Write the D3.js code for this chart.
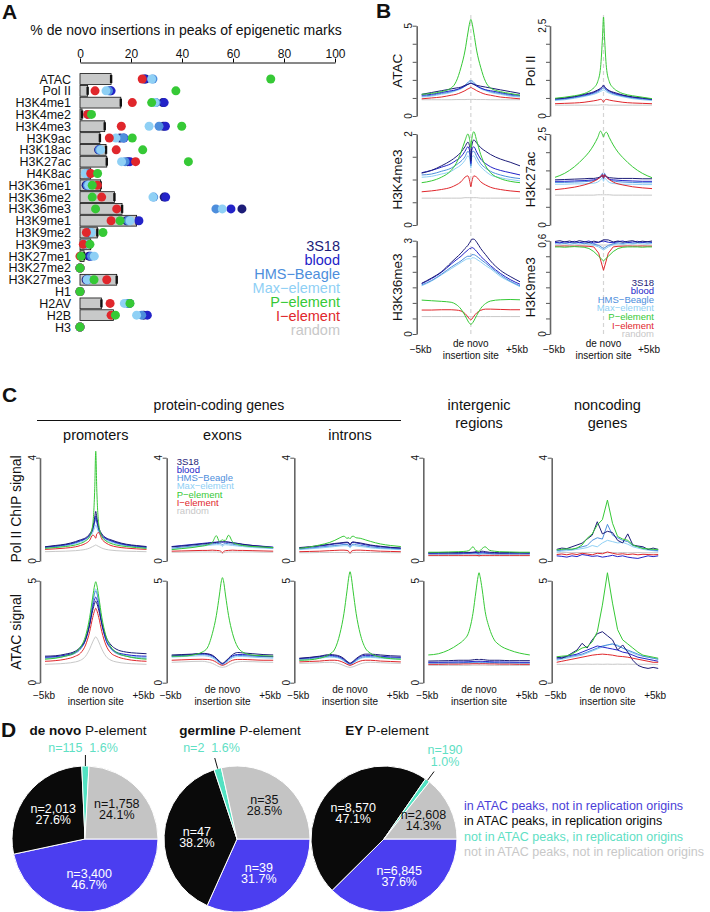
<!DOCTYPE html>
<html><head><meta charset="utf-8">
<script src="https://cdn.jsdelivr.net/npm/d3@7"></script>
<style>body{margin:0;background:#fff} text{font-family:"Liberation Sans",Arial,sans-serif}</style>
</head><body><div id="chart"></div>
<script>
// ---------- data ----------
const elements = ["3S18","blood","HMS\u2212Beagle","Max\u2212element","P\u2212element","I\u2212element","random"];
const colors = ["#1c1c78","#2323c8","#4d8edc","#8fd0f5","#36c936","#e0272c","#c8c8c8"];

// panel A: % insertions in peaks
const marks = ["ATAC","Pol II","H3K4me1","H3K4me2","H3K4me3","H3K9ac","H3K18ac","H3K27ac","H4K8ac","H3K36me1","H3K36me2","H3K36me3","H3K9me1","H3K9me2","H3K9me3","H3K27me1","H3K27me2","H3K27me3","H1","H2AV","H2B","H3"];
const randomPct = [12.2,3,16,0.8,9.7,7.8,10.2,10.5,4.2,8.1,13.5,16.5,22.2,6.8,4.2,1.6,0,14.4,0,8.4,13.1,0];
const pct3S18  = [25.7,11.8,32.5,3.2,32.7,15.7,7.3,18.7,2.6,2.4,33.0,63.5,18.3,3.8,1.9,3.5,0,2.4,0,19.2,25.0,0];
const pctBlood = [25.2,12.2,33.0,3.2,33.5,17.2,7.5,19.6,2.9,2.8,33.6,59.2,23.1,4.0,1.9,4.0,0,2.8,0,19.5,26.4,0];
const pctHMS   = [28.6,11.2,29.8,3.2,31.0,17.0,7.6,17.7,2.9,2.9,28.9,53.3,18.9,4.3,1.9,4.5,0,3.0,0,18.6,24.2,0];
const pctMax   = [28.1,10.2,29.4,3.2,27.1,14.1,8.1,16.3,2.1,3.4,28.6,55.8,19.6,4.4,1.9,5.6,0,2.8,0,17.4,22.2,0];
const pctP     = [74.8,37.6,28.1,4.5,39.9,20.5,24.6,42.5,6.9,4.8,4.8,6.1,15.7,9.0,3.9,0.4,0,5.5,0,19.6,13.9,0];
const pctI     = [24.4,5.9,20.5,3.0,16.2,11.5,14.2,21.8,4.2,6.8,8.5,14.4,12.2,2.5,1.3,0,0,10.5,0,11.8,12.2,0];
const aTicks = [0,20,40,60,80,100];

// profile x positions (kb from insertion site)
const kb = [-5,-4,-3,-2,-1.5,-1,-0.6,-0.3,-0.1,0,0.1,0.3,0.6,1,1.5,2,3,4,5];
const kbNoisy = [-5,-4.5,-4,-3.5,-3,-2.5,-2,-1.5,-1,-0.5,0,0.5,1,1.5,2,2.5,3,3.5,4,4.5,5];

// panel B profiles, series order = elements
const bATAC = [
  [1.2,1.3,1.4,1.5,1.55,1.6,1.7,1.75,1.8,1.8,1.8,1.75,1.7,1.65,1.6,1.55,1.45,1.35,1.25],
  [1.15,1.2,1.3,1.4,1.45,1.55,1.65,1.75,1.8,1.85,1.8,1.75,1.65,1.55,1.45,1.4,1.3,1.2,1.15],
  [1.1,1.15,1.25,1.35,1.45,1.55,1.7,1.85,1.95,1.95,1.95,1.85,1.7,1.55,1.45,1.35,1.25,1.15,1.1],
  [1.05,1.1,1.2,1.3,1.4,1.5,1.65,1.8,1.9,1.9,1.85,1.8,1.65,1.5,1.4,1.3,1.2,1.1,1.05],
  [1.2,1.25,1.35,1.55,1.9,2.7,3.6,4.6,5.2,5.35,5.2,4.6,3.6,2.7,1.9,1.55,1.35,1.25,1.15],
  [0.95,1.0,1.05,1.15,1.2,1.3,1.4,1.5,1.55,1.6,1.55,1.5,1.4,1.3,1.2,1.15,1.05,1.0,0.95],
  [0.9,0.9,0.9,0.9,0.91,0.91,0.91,0.92,0.92,0.92,0.92,0.92,0.91,0.91,0.91,0.9,0.9,0.9,0.9]
];
const bPolII = [
  [0.48,0.5,0.54,0.6,0.63,0.67,0.72,0.77,0.82,0.86,0.82,0.76,0.7,0.66,0.62,0.58,0.53,0.5,0.47],
  [0.47,0.49,0.53,0.58,0.61,0.65,0.7,0.75,0.8,0.83,0.8,0.74,0.69,0.64,0.6,0.57,0.52,0.49,0.46],
  [0.45,0.47,0.51,0.56,0.59,0.63,0.67,0.72,0.76,0.78,0.76,0.71,0.66,0.62,0.58,0.55,0.5,0.47,0.45],
  [0.43,0.45,0.49,0.54,0.57,0.6,0.64,0.68,0.71,0.72,0.71,0.67,0.63,0.59,0.56,0.53,0.48,0.45,0.43],
  [0.49,0.52,0.56,0.62,0.68,0.78,0.95,1.35,2.2,2.74,2.2,1.35,0.95,0.78,0.68,0.62,0.56,0.52,0.48],
  [0.34,0.35,0.36,0.38,0.4,0.42,0.44,0.46,0.43,0.38,0.43,0.46,0.44,0.42,0.4,0.38,0.36,0.35,0.34],
  [0.3,0.3,0.3,0.3,0.3,0.3,0.3,0.31,0.31,0.31,0.31,0.31,0.3,0.3,0.3,0.3,0.3,0.3,0.3]
];
const bH3K4me3 = [
  [1.14,1.2,1.3,1.42,1.5,1.6,1.72,1.82,1.7,1.4,1.75,1.87,1.8,1.7,1.62,1.55,1.45,1.38,1.3],
  [1.15,1.2,1.27,1.35,1.42,1.5,1.62,1.72,1.6,1.35,1.65,1.72,1.6,1.45,1.35,1.28,1.2,1.15,1.1],
  [1.1,1.12,1.18,1.25,1.32,1.4,1.5,1.62,1.55,1.3,1.6,1.62,1.5,1.35,1.25,1.18,1.1,1.05,1.02],
  [1.05,1.07,1.12,1.18,1.25,1.32,1.42,1.52,1.45,1.25,1.5,1.52,1.4,1.28,1.18,1.1,1.04,1.0,0.97],
  [0.93,0.97,1.05,1.2,1.35,1.6,1.85,2.0,1.85,1.7,1.9,2.05,1.85,1.55,1.3,1.15,1.02,0.96,0.93],
  [0.73,0.75,0.78,0.83,0.88,0.95,1.05,1.08,0.95,0.84,0.95,1.08,1.05,0.95,0.88,0.83,0.78,0.75,0.73],
  [0.59,0.59,0.59,0.59,0.59,0.59,0.6,0.6,0.6,0.6,0.6,0.6,0.6,0.59,0.59,0.59,0.59,0.59,0.59]
];
const bH3K27ac = [
  [1.24,1.25,1.26,1.27,1.28,1.28,1.3,1.32,1.35,1.3,1.36,1.33,1.3,1.29,1.28,1.28,1.28,1.27,1.27],
  [1.2,1.2,1.21,1.22,1.23,1.24,1.27,1.32,1.38,1.28,1.38,1.32,1.26,1.24,1.23,1.22,1.21,1.2,1.2],
  [1.17,1.17,1.18,1.19,1.2,1.22,1.26,1.35,1.42,1.3,1.42,1.34,1.25,1.21,1.19,1.18,1.17,1.16,1.16],
  [1.12,1.12,1.13,1.13,1.14,1.15,1.18,1.24,1.3,1.2,1.3,1.24,1.17,1.14,1.13,1.12,1.12,1.11,1.11],
  [1.31,1.42,1.6,1.85,2.0,2.2,2.4,2.58,2.48,2.42,2.5,2.55,2.4,2.2,2.0,1.85,1.6,1.42,1.3],
  [0.97,1.0,1.04,1.1,1.14,1.2,1.26,1.32,1.38,1.3,1.38,1.32,1.25,1.18,1.13,1.1,1.05,1.02,1.0],
  [0.82,0.82,0.82,0.82,0.82,0.82,0.83,0.83,0.83,0.83,0.83,0.83,0.83,0.82,0.82,0.82,0.82,0.82,0.82]
];
const bH3K36me3 = [
  [1.63,1.8,2.0,2.3,2.45,2.6,2.75,2.85,2.95,3.0,3.05,3.05,2.95,2.75,2.55,2.35,2.05,1.85,1.68],
  [1.62,1.78,1.98,2.25,2.38,2.5,2.62,2.7,2.75,2.75,2.78,2.75,2.65,2.5,2.35,2.2,1.95,1.75,1.6],
  [1.58,1.72,1.92,2.15,2.25,2.35,2.45,2.5,2.5,2.5,2.55,2.55,2.5,2.4,2.28,2.15,1.9,1.7,1.55],
  [1.55,1.7,1.9,2.1,2.2,2.3,2.38,2.42,2.42,2.4,2.45,2.45,2.4,2.32,2.2,2.1,1.85,1.68,1.52],
  [1.09,1.07,1.05,1.02,0.95,0.8,0.6,0.42,0.33,0.31,0.33,0.42,0.6,0.82,0.98,1.06,1.1,1.11,1.1],
  [0.77,0.77,0.78,0.78,0.77,0.74,0.66,0.55,0.47,0.45,0.48,0.57,0.68,0.76,0.8,0.8,0.79,0.78,0.78],
  [0.56,0.56,0.56,0.56,0.56,0.56,0.56,0.56,0.56,0.56,0.56,0.56,0.56,0.56,0.56,0.56,0.56,0.56,0.56]
];
const bH3K9me3 = [ // on kbNoisy
  [0.595,0.6,0.592,0.598,0.59,0.6,0.594,0.588,0.597,0.59,0.606,0.605,0.592,0.598,0.59,0.596,0.6,0.59,0.597,0.593,0.598],
  [0.59,0.585,0.594,0.588,0.596,0.587,0.592,0.598,0.585,0.59,0.598,0.59,0.587,0.594,0.598,0.588,0.592,0.596,0.588,0.594,0.59],
  [0.585,0.59,0.582,0.588,0.584,0.59,0.58,0.586,0.578,0.57,0.55,0.57,0.58,0.587,0.582,0.59,0.584,0.588,0.592,0.585,0.588],
  [0.58,0.578,0.584,0.576,0.582,0.578,0.585,0.575,0.57,0.56,0.54,0.56,0.575,0.58,0.576,0.582,0.578,0.584,0.58,0.578,0.582],
  [0.56,0.56,0.558,0.56,0.562,0.56,0.558,0.55,0.53,0.5,0.47,0.5,0.53,0.55,0.558,0.56,0.56,0.56,0.558,0.56,0.56],
  [0.565,0.565,0.566,0.565,0.565,0.566,0.565,0.564,0.56,0.52,0.41,0.52,0.56,0.564,0.565,0.566,0.565,0.565,0.566,0.565,0.565],
  [0.572,0.572,0.572,0.572,0.572,0.572,0.572,0.572,0.572,0.572,0.572,0.572,0.572,0.572,0.572,0.572,0.572,0.572,0.572,0.572,0.572]
];

// panel C profiles
const cPolPromoters = [
  [0.55,0.6,0.65,0.75,0.82,0.9,1.05,1.3,1.7,1.92,1.7,1.3,1.05,0.9,0.82,0.75,0.65,0.6,0.56],
  [0.54,0.58,0.63,0.72,0.79,0.87,1.0,1.22,1.55,1.75,1.55,1.22,1.0,0.87,0.79,0.72,0.63,0.58,0.54],
  [0.52,0.56,0.61,0.7,0.77,0.85,0.98,1.2,1.5,1.65,1.5,1.2,0.98,0.85,0.77,0.7,0.61,0.56,0.52],
  [0.5,0.54,0.59,0.67,0.73,0.8,0.92,1.1,1.3,1.4,1.3,1.1,0.92,0.8,0.73,0.67,0.59,0.54,0.5],
  [0.49,0.52,0.56,0.62,0.68,0.78,0.95,1.4,2.8,4.25,2.8,1.4,0.95,0.78,0.68,0.62,0.56,0.52,0.49],
  [0.45,0.47,0.5,0.55,0.6,0.68,0.8,1.0,0.95,0.88,1.05,1.1,0.85,0.7,0.6,0.55,0.5,0.47,0.45],
  [0.36,0.37,0.38,0.4,0.42,0.45,0.5,0.56,0.6,0.62,0.6,0.56,0.5,0.45,0.42,0.4,0.38,0.37,0.36]
];
const cPolExons = [
  [0.55,0.58,0.62,0.66,0.68,0.7,0.72,0.74,0.75,0.75,0.75,0.74,0.73,0.7,0.68,0.65,0.6,0.56,0.52],
  [0.56,0.6,0.64,0.68,0.7,0.72,0.73,0.74,0.73,0.72,0.73,0.74,0.73,0.71,0.68,0.64,0.6,0.57,0.54],
  [0.5,0.54,0.58,0.62,0.64,0.66,0.68,0.68,0.66,0.62,0.66,0.68,0.67,0.65,0.62,0.6,0.56,0.53,0.5],
  [0.46,0.5,0.54,0.58,0.6,0.62,0.63,0.63,0.6,0.56,0.6,0.63,0.62,0.6,0.58,0.56,0.52,0.5,0.48],
  [0.44,0.48,0.52,0.58,0.62,0.72,0.98,0.76,0.8,0.82,0.8,0.8,1.0,0.74,0.64,0.6,0.56,0.54,0.52],
  [0.38,0.39,0.4,0.41,0.41,0.42,0.41,0.4,0.36,0.32,0.36,0.4,0.41,0.42,0.41,0.41,0.4,0.39,0.38],
  [0.34,0.34,0.35,0.35,0.35,0.35,0.35,0.34,0.32,0.3,0.32,0.34,0.35,0.35,0.35,0.35,0.35,0.34,0.34]
];
const cPolIntrons = [
  [0.52,0.55,0.6,0.65,0.68,0.7,0.72,0.73,0.7,0.62,0.7,0.74,0.72,0.7,0.66,0.62,0.57,0.53,0.5],
  [0.5,0.54,0.58,0.63,0.66,0.68,0.7,0.71,0.68,0.6,0.68,0.72,0.7,0.67,0.63,0.6,0.55,0.52,0.5],
  [0.47,0.5,0.54,0.58,0.6,0.62,0.64,0.64,0.6,0.54,0.6,0.65,0.63,0.61,0.58,0.55,0.51,0.49,0.47],
  [0.44,0.47,0.5,0.54,0.56,0.58,0.59,0.59,0.56,0.5,0.56,0.6,0.58,0.56,0.54,0.51,0.48,0.46,0.44],
  [0.49,0.54,0.62,0.72,0.8,0.9,0.96,0.88,0.9,0.86,0.92,0.96,0.9,0.88,0.82,0.76,0.66,0.6,0.56],
  [0.36,0.37,0.38,0.4,0.41,0.42,0.42,0.41,0.36,0.3,0.36,0.41,0.42,0.42,0.41,0.4,0.38,0.37,0.36],
  [0.32,0.32,0.33,0.33,0.33,0.33,0.33,0.33,0.31,0.29,0.31,0.33,0.33,0.33,0.33,0.33,0.33,0.32,0.32]
];
const cPolIntergenic = [
  [0.32,0.33,0.32,0.33,0.34,0.33,0.34,0.36,0.34,0.32,0.36,0.38,0.36,0.34,0.33,0.32,0.33,0.32,0.32],
  [0.3,0.3,0.31,0.3,0.31,0.31,0.32,0.33,0.31,0.3,0.33,0.34,0.32,0.31,0.31,0.3,0.3,0.31,0.3],
  [0.28,0.28,0.28,0.28,0.29,0.29,0.3,0.3,0.28,0.26,0.28,0.3,0.3,0.29,0.28,0.28,0.28,0.28,0.28],
  [0.26,0.26,0.26,0.26,0.27,0.27,0.27,0.27,0.25,0.23,0.25,0.27,0.27,0.27,0.26,0.26,0.26,0.26,0.26],
  [0.34,0.34,0.35,0.36,0.37,0.4,0.55,0.4,0.38,0.37,0.4,0.48,0.55,0.42,0.38,0.36,0.35,0.34,0.34],
  [0.22,0.22,0.22,0.22,0.22,0.22,0.22,0.22,0.21,0.2,0.21,0.22,0.22,0.22,0.22,0.22,0.22,0.22,0.22],
  [0.2,0.2,0.2,0.2,0.2,0.2,0.2,0.2,0.2,0.19,0.2,0.2,0.2,0.2,0.2,0.2,0.2,0.2,0.2]
];
const cPolNoncoding = [ // on kbNoisy
  [0.45,0.5,0.48,0.55,0.62,0.69,0.85,1.0,1.52,1.05,1.15,1.1,0.8,0.7,1.05,0.62,0.58,0.55,0.45,0.5,0.45],
  [0.2,0.18,0.15,0.2,0.17,0.25,0.22,0.18,0.2,0.15,0.18,0.22,0.17,0.2,0.15,0.12,0.1,0.15,0.2,0.17,0.2],
  [0.4,0.42,0.45,0.44,0.5,0.55,0.6,0.8,0.9,0.85,1.42,1.0,0.9,0.8,0.75,0.6,0.55,0.5,0.45,0.42,0.4],
  [0.35,0.38,0.4,0.42,0.45,0.48,0.52,0.6,0.55,0.7,0.8,0.75,0.7,0.72,0.65,0.55,0.5,0.45,0.42,0.4,0.38],
  [0.43,0.45,0.47,0.46,0.5,0.62,0.88,1.05,1.4,1.6,2.36,1.46,0.95,0.85,0.8,0.62,0.55,0.48,0.47,0.45,0.45],
  [0.25,0.27,0.24,0.28,0.25,0.3,0.27,0.24,0.3,0.28,0.35,0.3,0.26,0.28,0.25,0.27,0.24,0.26,0.25,0.24,0.25],
  [0.32,0.32,0.33,0.32,0.33,0.32,0.33,0.33,0.32,0.33,0.32,0.33,0.32,0.33,0.32,0.32,0.33,0.32,0.32,0.32,0.32]
];
const cAtacPromoters = [
  [1.3,1.32,1.4,1.55,1.75,2.15,2.85,3.55,3.9,4.0,3.9,3.55,2.9,2.25,1.85,1.65,1.5,1.45,1.42],
  [1.25,1.28,1.35,1.5,1.7,2.1,2.85,3.7,4.1,4.2,4.1,3.7,2.85,2.1,1.7,1.5,1.38,1.32,1.3],
  [1.2,1.22,1.3,1.45,1.65,2.1,2.95,3.9,4.4,4.5,4.4,3.9,2.95,2.1,1.65,1.45,1.3,1.22,1.2],
  [1.25,1.27,1.35,1.5,1.7,2.15,3.0,4.0,4.5,4.6,4.5,4.0,3.0,2.15,1.7,1.5,1.35,1.28,1.25],
  [1.15,1.2,1.3,1.5,1.75,2.3,3.2,4.2,4.8,4.95,4.8,4.2,3.2,2.3,1.75,1.5,1.3,1.2,1.15],
  [1.05,1.08,1.15,1.3,1.45,1.85,2.5,3.2,3.55,3.65,3.55,3.2,2.5,1.85,1.45,1.3,1.15,1.08,1.05],
  [0.9,0.92,0.95,1.02,1.1,1.3,1.65,2.0,2.2,2.25,2.2,2.0,1.65,1.3,1.1,1.02,0.95,0.92,0.9]
];
const cAtacExons = [
  [1.36,1.38,1.4,1.44,1.42,1.35,1.2,1.05,0.97,0.95,0.97,1.05,1.2,1.38,1.48,1.46,1.42,1.38,1.36],
  [1.32,1.35,1.38,1.42,1.4,1.32,1.18,1.03,0.95,0.93,0.95,1.03,1.18,1.32,1.38,1.38,1.34,1.3,1.28],
  [1.3,1.33,1.36,1.38,1.36,1.28,1.14,1.0,0.92,0.9,0.92,1.0,1.14,1.28,1.34,1.33,1.3,1.28,1.26],
  [1.25,1.28,1.3,1.32,1.3,1.22,1.08,0.95,0.88,0.86,0.88,0.95,1.08,1.22,1.28,1.28,1.25,1.22,1.2],
  [1.3,1.3,1.35,1.5,1.7,2.4,3.3,4.3,5.0,5.15,5.0,4.3,3.3,2.4,1.75,1.5,1.35,1.32,1.3],
  [1.1,1.12,1.14,1.15,1.14,1.1,1.0,0.9,0.86,0.85,0.86,0.9,1.0,1.1,1.14,1.14,1.12,1.1,1.1],
  [1.0,1.02,1.04,1.05,1.02,0.95,0.85,0.78,0.76,0.75,0.76,0.78,0.85,0.95,1.02,1.04,1.03,1.01,1.0]
];
const cAtacIntrons = [
  [1.2,1.24,1.3,1.38,1.36,1.3,1.18,1.05,0.98,0.96,0.98,1.05,1.18,1.32,1.4,1.4,1.36,1.32,1.3],
  [1.18,1.22,1.28,1.34,1.32,1.26,1.14,1.02,0.95,0.93,0.95,1.02,1.14,1.28,1.34,1.34,1.3,1.26,1.24],
  [1.15,1.18,1.24,1.3,1.28,1.22,1.1,0.98,0.92,0.9,0.92,0.98,1.1,1.22,1.28,1.28,1.25,1.22,1.2],
  [1.1,1.14,1.2,1.25,1.24,1.18,1.06,0.95,0.88,0.86,0.88,0.95,1.06,1.18,1.24,1.24,1.2,1.17,1.15],
  [1.1,1.12,1.2,1.4,1.65,2.4,3.4,4.5,5.25,5.44,5.25,4.5,3.4,2.4,1.7,1.45,1.25,1.18,1.15],
  [1.02,1.04,1.06,1.1,1.1,1.06,0.98,0.9,0.86,0.85,0.86,0.9,0.98,1.06,1.1,1.1,1.06,1.04,1.02],
  [0.95,0.96,0.98,1.0,0.98,0.92,0.84,0.78,0.76,0.75,0.76,0.78,0.84,0.92,0.98,1.0,0.98,0.96,0.95]
];
const cAtacIntergenic = [
  [1.06,1.07,1.08,1.1,1.1,1.1,1.12,1.14,1.14,1.12,1.14,1.14,1.12,1.1,1.1,1.1,1.08,1.08,1.08],
  [1.0,1.0,1.01,1.02,1.02,1.03,1.04,1.05,1.05,1.04,1.05,1.05,1.04,1.03,1.02,1.02,1.01,1.0,1.0],
  [0.97,0.97,0.98,0.98,0.99,0.99,1.0,1.0,1.0,0.98,1.0,1.0,1.0,0.99,0.99,0.98,0.98,0.97,0.97],
  [0.93,0.93,0.94,0.94,0.95,0.95,0.96,0.96,0.95,0.94,0.95,0.96,0.96,0.95,0.95,0.94,0.94,0.93,0.93],
  [1.36,1.42,1.6,1.9,2.1,2.5,3.4,4.5,5.2,5.39,5.2,4.6,3.5,2.7,2.1,1.85,1.6,1.45,1.36],
  [0.9,0.9,0.91,0.91,0.92,0.92,0.93,0.93,0.93,0.92,0.93,0.93,0.93,0.92,0.92,0.91,0.91,0.9,0.9],
  [0.85,0.85,0.85,0.85,0.85,0.85,0.86,0.86,0.86,0.86,0.86,0.86,0.86,0.85,0.85,0.85,0.85,0.85,0.85]
];
const cAtacNoncoding = [ // on kbNoisy
  [1.25,1.2,1.3,1.45,1.6,1.93,1.7,2.1,2.4,2.5,2.3,2.1,1.6,1.85,1.5,1.1,0.85,0.75,0.7,0.75,0.7],
  [1.2,1.25,1.3,1.35,1.4,1.5,1.6,1.7,1.8,1.75,1.7,1.65,1.6,1.5,1.45,1.35,1.25,1.2,1.15,1.1,1.05],
  [1.15,1.2,1.25,1.3,1.35,1.4,1.5,1.6,1.7,1.8,1.85,1.9,1.8,1.7,1.6,1.5,1.4,1.3,1.25,1.2,1.15],
  [1.1,1.15,1.2,1.25,1.3,1.35,1.45,1.55,1.65,1.75,1.85,1.9,1.85,1.7,1.55,1.45,1.35,1.3,1.25,1.2,1.15],
  [1.27,1.3,1.32,1.4,1.55,1.7,1.76,2.0,2.5,3.8,5.39,3.9,2.6,2.1,1.9,1.7,1.5,1.35,1.3,1.25,1.2],
  [1.0,1.05,1.1,1.15,1.2,1.25,1.3,1.35,1.38,1.4,1.38,1.35,1.3,1.28,1.25,1.2,1.15,1.1,1.05,1.0,1.0],
  [0.9,0.9,0.91,0.9,0.91,0.9,0.91,0.9,0.91,0.9,0.91,0.9,0.91,0.9,0.91,0.9,0.91,0.9,0.91,0.9,0.9]
];

// panel D: pies
const pieTitles = ["de novo","germline","EY"];
const pieCategories = ["in ATAC peaks, not in replication origins","in ATAC peaks, in replication origins","not in ATAC peaks, in replication origins","not in ATAC peaks, not in replication origins"];
const countsDeNovo = [3400,2013,115,1758];
const countsGermline = [39,47,2,35];
const countsEY = [6845,8570,190,2608];
const pieColors = ["#4b3ef0","#0a0a0a","#52e2c2","#c4c4c4"];
const pieTextColors = ["#4b3ed8","#0a0a0a","#5fe0c4","#c8c8c8"];

// ---------- drawing ----------
const W = 710, H = 912;
const svg = d3.select("#chart").append("svg").attr("width", W).attr("height", H);
svg.append("rect").attr("width", W).attr("height", H).attr("fill", "#fff");

function txt(x, y, s, size, opt = {}) {
  return svg.append("text").attr("x", x).attr("y", y).attr("font-size", size)
    .attr("text-anchor", opt.anchor || "start").attr("fill", opt.fill || "#111")
    .attr("font-weight", opt.bold ? "bold" : null).text(s);
}
function vtxt(x, y, s, size) {
  return svg.append("text").attr("transform", `translate(${x},${y}) rotate(-90)`)
    .attr("text-anchor", "middle").attr("font-size", size).attr("fill", "#111").text(s);
}

// ----- Panel A -----
txt(2, 19, "A", 21, {bold: true});
txt(186, 35, "% de novo insertions in peaks of epigenetic marks", 14, {anchor: "middle"});
const xA = d3.scaleLinear().domain([0, 100]).range([80, 335]);
const yA = d3.scalePoint().domain(marks).range([79, 327]);
const axA = svg.append("g").attr("transform", "translate(0,62.5)")
  .call(d3.axisTop(xA).tickValues(aTicks).tickSize(4).tickSizeOuter(0));
axA.selectAll("text").attr("y", -5).attr("dy", 0).attr("font-size", 12)
  .attr("font-family", '"Liberation Sans",Arial,sans-serif').attr("fill", "#111");
axA.select(".domain").attr("stroke", "#111");

svg.selectAll(".mlab").data(marks).enter().append("text")
  .attr("x", 71).attr("y", d => yA(d) + 4.5).attr("text-anchor", "end")
  .attr("font-size", 12.5).attr("fill", "#111").text(d => d);

svg.selectAll(".bar").data(randomPct).enter().append("rect")
  .attr("x", xA(0)).attr("y", (d, i) => yA(marks[i]) - 5.4)
  .attr("width", d => xA(d) - xA(0)).attr("height", 10.8)
  .attr("fill", d => d > 0 ? "#c8c9c9" : "none").attr("stroke", d => d > 0 ? "#111" : "none").attr("stroke-width", 0.8);
svg.selectAll(".err").data(randomPct).enter().append("rect")
  .attr("x", d => xA(d) - 1.2).attr("y", (d, i) => yA(marks[i]) - 4)
  .attr("width", 2.4).attr("height", 8).attr("fill", d => d > 0 ? "#111" : "none");

const dotSeries = [[pct3S18, 0], [pctBlood, 1], [pctHMS, 2], [pctMax, 3], [pctI, 5], [pctP, 4]];
dotSeries.forEach(([vals, k]) => {
  svg.append("g").selectAll("circle").data(vals).enter().append("circle")
    .attr("cx", d => xA(d)).attr("cy", (d, i) => yA(marks[i])).attr("r", 4.5)
    .attr("fill", colors[k]);
});
elements.forEach((e, i) => txt(340, 251 + i * 14, e, 14.5, {anchor: "end", fill: colors[i]}));

// ----- profile panels -----
const drawOrder = [6, 3, 2, 1, 0, 5, 4];
function profile(c) {
  const x = d3.scaleLinear().domain([-5, 5]).range([c.x0, c.x1]);
  const y = d3.scaleLinear().domain([0, c.max]).range([c.yb, c.yt]);
  const g = svg.append("g");
  const ax = g.append("g").attr("transform", `translate(${c.ax},0)`)
    .call(d3.axisLeft(y).tickValues(c.ticks).tickSize(4).tickSizeOuter(0).tickFormat(""));
  ax.select(".domain").attr("stroke", "#666").attr("stroke-width", 1.6);
  ax.selectAll(".tick line").attr("stroke", "#555").attr("stroke-width", 1);
  [0, c.max].forEach(v => vtxt(c.ax - 4.5, y(v), String(v), 10));
  const xs = c.noisy ? kbNoisy : kb;
  const line = d3.line().x((d, i) => x(xs[i])).y(d => y(d))
    .curve(c.noisy ? d3.curveLinear : d3.curveMonotoneX);
  drawOrder.forEach(k => g.append("path").attr("d", line(c.data[k]))
    .attr("fill", "none").attr("stroke", colors[k]).attr("stroke-width", 1));
  if (c.xlab) {
    txt(x(-5) - 1, c.xlab + 4, "\u22125kb", 10, {anchor: "middle"});
    txt(x(5) - 3, c.xlab + 4, "+5kb", 10, {anchor: "middle"});
    txt(x(0), c.xlab - 2, "de novo", 10, {anchor: "middle"});
    txt(x(0), c.xlab + 10, "insertion site", 10, {anchor: "middle"});
  }
  return x;
}

// ----- Panel B -----
txt(376, 18, "B", 21, {bold: true});
const bCols = [{ax: 416.7, x0: 421.7, x1: 520}, {ax: 550, x0: 555, x1: 652}];
const bRows = [[25.7, 116], [134, 225], [240.7, 334]];
[470.85, 603.5].forEach(cx => svg.append("line").attr("x1", cx).attr("x2", cx).attr("y1", 15).attr("y2", 336)
  .attr("stroke", "#d4d4d4").attr("stroke-width", 1.2).attr("stroke-dasharray", "4,3"));
const bPanels = [
  {col: 0, row: 0, data: bATAC, max: 5, ticks: [0,1,2,3,4,5], label: "ATAC"},
  {col: 1, row: 0, data: bPolII, max: 2.5, ticks: [0,0.5,1,1.5,2,2.5], label: "Pol II"},
  {col: 0, row: 1, data: bH3K4me3, max: 2, ticks: [0,0.5,1,1.5,2], label: "H3K4me3"},
  {col: 1, row: 1, data: bH3K27ac, max: 2.5, ticks: [0,0.5,1,1.5,2,2.5], label: "H3K27ac"},
  {col: 0, row: 2, data: bH3K36me3, max: 3, ticks: [0,0.5,1,1.5,2,2.5,3], label: "H3K36me3"},
  {col: 1, row: 2, data: bH3K9me3, max: 0.6, ticks: [0,0.1,0.2,0.3,0.4,0.5,0.6], label: "H3K9me3", noisy: true}
];
bPanels.forEach(p => {
  const c = bCols[p.col], r = bRows[p.row];
  profile({ax: c.ax, x0: c.x0, x1: c.x1, yt: r[0], yb: r[1], max: p.max, ticks: p.ticks,
    data: p.data, noisy: p.noisy, xlab: p.row === 2 ? 349 : null});
  vtxt(c.ax - 15, (r[0] + r[1]) / 2, p.label, 13.5);
});
elements.forEach((e, i) => txt(654, 285.5 + i * 8.6, e, 9.5, {anchor: "end", fill: colors[i]}));

// ----- Panel C -----
txt(2, 402, "C", 21, {bold: true});
txt(219, 410, "protein-coding genes", 14, {anchor: "middle"});
svg.append("line").attr("x1", 37).attr("x2", 401).attr("y1", 420.5).attr("y2", 420.5).attr("stroke", "#111").attr("stroke-width", 1.2);
const cAxes = [40, 166.7, 294.3, 423.3, 551.7];
const cHeads = [["promoters"], ["exons"], ["introns"], ["intergenic", "regions"], ["noncoding", "genes"]];
const cRows = [[457.7, 561], [580.7, 682.7]];
const cData = [
  [cPolPromoters, cPolExons, cPolIntrons, cPolIntergenic, cPolNoncoding],
  [cAtacPromoters, cAtacExons, cAtacIntrons, cAtacIntergenic, cAtacNoncoding]
];
cAxes.forEach((a, j) => {
  const cx = (a + 5 + a + 106.5) / 2;
  const hd = cHeads[j];
  if (hd.length === 1) txt(cx, 440, hd[0], 14.5, {anchor: "middle"});
  else { txt(cx, 410, hd[0], 14.5, {anchor: "middle"}); txt(cx, 428, hd[1], 14.5, {anchor: "middle"}); }
  cRows.forEach((r, i) => profile({ax: a, x0: a + 5, x1: a + 106.5, yt: r[0], yb: r[1],
    max: i === 0 ? 4 : 5, ticks: i === 0 ? [0, 4] : [0, 5], data: cData[i][j], noisy: j === 4,
    xlab: i === 1 ? 695 : null}));
});
vtxt(21, 509, "Pol II ChIP signal", 14);
vtxt(21, 632, "ATAC signal", 14);
elements.forEach((e, i) => txt(176.7, 464.5 + i * 8.33, e, 9.5, {fill: colors[i]}));

// ----- Panel D -----
txt(1, 737, "D", 21, {bold: true});
const pieCenters = [[85, 839], [237, 839], [384, 839]];
const R = 73;
const pieSets = [countsDeNovo, countsGermline, countsEY];
const smallLab = [{x: 83, y: 752, two: false}, {x: 211.5, y: 752, two: false}, {x: 445, y: 754, two: true}];
const pie = d3.pie().sort(null).startAngle(Math.PI / 2).endAngle(Math.PI / 2 + 2 * Math.PI);
const arc = d3.arc().innerRadius(0).outerRadius(R);
const fmtN = d3.format(","), fmtP = d3.format(".1%");
pieSets.forEach((counts, j) => {
  const [cx, cy] = pieCenters[j];
  const total = d3.sum(counts);
  const t = svg.append("text").attr("x", cx + 3).attr("y", 735).attr("text-anchor", "middle").attr("font-size", 13.5).attr("fill", "#111");
  t.append("tspan").attr("font-weight", "bold").text(pieTitles[j]);
  t.append("tspan").text(" P-element");
  const g = svg.append("g").attr("transform", `translate(${cx},${cy})`);
  const arcs = pie(counts);
  g.selectAll("path").data(arcs).enter().append("path").attr("d", arc)
    .attr("fill", (d, i) => pieColors[i]).attr("stroke", "#fff").attr("stroke-width", 1);
  arcs.forEach((a, i) => {
    const mid = (a.startAngle + a.endAngle) / 2;
    const lab1 = "n=" + fmtN(counts[i]), lab2 = fmtP(counts[i] / total);
    if (i === 2) {
      const s = smallLab[j];
      g.append("line").attr("x1", Math.sin(mid) * R).attr("y1", -Math.cos(mid) * R)
        .attr("x2", Math.sin(mid) * (R + 11)).attr("y2", -Math.cos(mid) * (R + 11)).attr("stroke", "#111").attr("stroke-width", 1);
      if (s.two) {
        txt(s.x, s.y, lab1, 12.5, {anchor: "middle", fill: pieTextColors[2]});
        txt(s.x, s.y + 11.5, lab2, 12.5, {anchor: "middle", fill: pieTextColors[2]});
      } else {
        txt(s.x, s.y, lab1 + "  " + lab2, 12.5, {anchor: "middle", fill: pieTextColors[2]})
          .style("white-space", "pre");
      }
      return;
    }
    const rr = R * (i === 3 ? 0.6 : 0.55);
    const lx = cx + Math.sin(mid) * rr, ly = cy - Math.cos(mid) * rr;
    const fill = i === 3 ? "#111" : "#fff";
    txt(lx, ly - 1, lab1, 12.5, {anchor: "middle", fill});
    txt(lx, ly + 10, lab2, 12.5, {anchor: "middle", fill});
  });
});
pieCategories.forEach((c, i) => txt(464, 809.5 + i * 15.6, c, 12.5, {fill: pieTextColors[i]}));
</script></body></html>
